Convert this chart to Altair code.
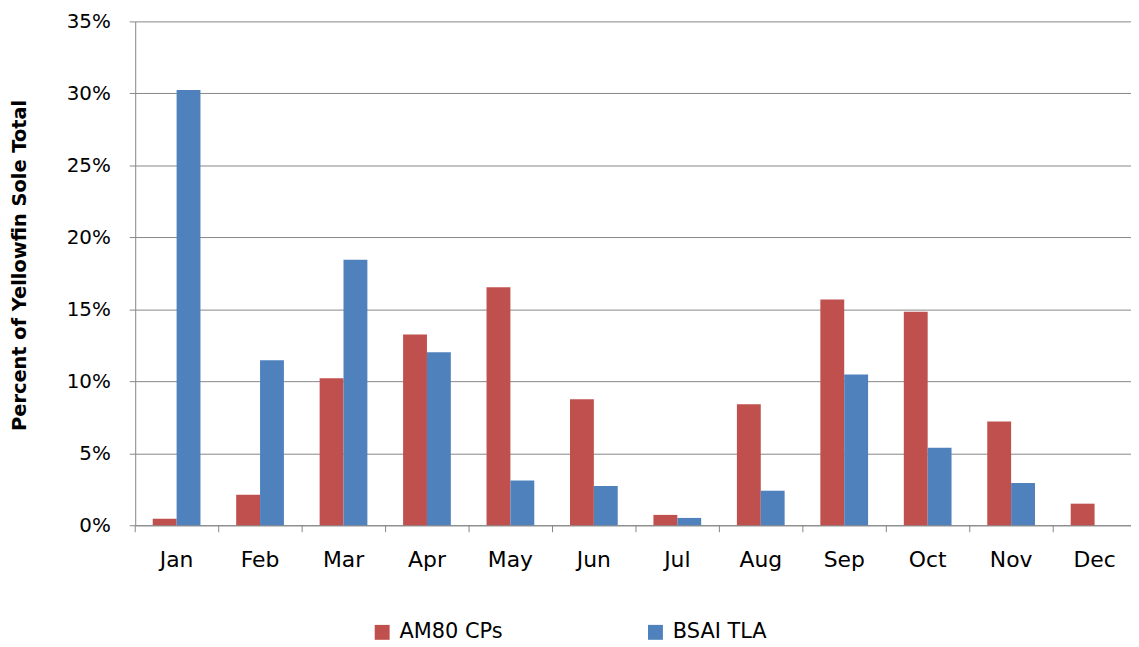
import altair as alt
import pandas as pd

months = ["Jan", "Feb", "Mar", "Apr", "May", "Jun", "Jul", "Aug", "Sep", "Oct", "Nov", "Dec"]
am80 = [0.46, 2.12, 10.22, 13.26, 16.53, 8.75, 0.72, 8.40, 15.68, 14.83, 7.21, 1.50]
bsai = [30.23, 11.46, 18.44, 12.02, 3.11, 2.72, 0.51, 2.40, 10.48, 5.39, 2.93, 0.0]
series = ["AM80 CPs", "BSAI TLA"]
colors = ["#C0504D", "#4F81BD"]
y_ticks = [0, 0.05, 0.10, 0.15, 0.20, 0.25, 0.30, 0.35]

rows = []
for m, a, b in zip(months, am80, bsai):
    rows.append({"month": m, "series": series[0], "value": a / 100})
    rows.append({"month": m, "series": series[1], "value": b / 100})
df = pd.DataFrame(rows)

FONT = "DejaVu Sans"
GRID = "#868686"
W, H = 1002, 507
RANGE_W = 1007

xscale = alt.Scale(range=[0, RANGE_W], paddingInner=0.428, paddingOuter=0.21)
xaxis = alt.Axis(title=None, labelAngle=0, ticks=False, labelPadding=24,
                 domainColor=GRID, labelFontSize=22, labelFont=FONT,
                 labelColor="black", grid=False)

bars = alt.Chart(df).mark_bar().encode(
    x=alt.X("month:N", sort=months, scale=xscale, axis=xaxis),
    xOffset=alt.XOffset("series:N", sort=series,
                        scale=alt.Scale(paddingInner=0, paddingOuter=0)),
    y=alt.Y("value:Q", scale=alt.Scale(domain=[0, 0.35], nice=False),
            axis=alt.Axis(format=".0%", values=y_ticks, title="Percent of Yellowfin Sole Total",
                          titleFont=FONT, titleFontSize=19.5, titleFontWeight="bold",
                          titleColor="black", titleX=-116, titleY=245,
                          titleBaseline="middle", titleAlign="center",
                          labelFont=FONT, labelFontSize=20, labelColor="black",
                          labelPadding=19, tickSize=6, tickColor=GRID,
                          domainColor=GRID, gridColor=GRID, grid=True)),
    color=alt.Color("series:N", sort=series,
                    scale=alt.Scale(domain=series, range=colors),
                    legend=alt.Legend(title=None, orient="none", legendX=238, legendY=604,
                                      direction="horizontal", symbolType="square",
                                      symbolSize=225, symbolStrokeWidth=0,
                                      labelFont=FONT, labelFontSize=21, labelColor="black",
                                      labelOffset=7, columnPadding=143)),
)

ticks = alt.Chart(pd.DataFrame({"month": months})).mark_rule(color=GRID, xOffset=-17.6).encode(
    x=alt.X("month:N", sort=months, scale=xscale, axis=xaxis, bandPosition=0),
    y=alt.value(H),
    y2=alt.value(H + 7),
)

chart = alt.layer(bars, ticks).properties(
    width=W, height=H,
    autosize=alt.AutoSizeParams(type="none"),
    padding={"left": 128, "top": 11.5, "right": 0, "bottom": 120},
).configure_view(stroke=None)

chart.save("out.html", embed_options={"renderer": "svg", "actions": False})
